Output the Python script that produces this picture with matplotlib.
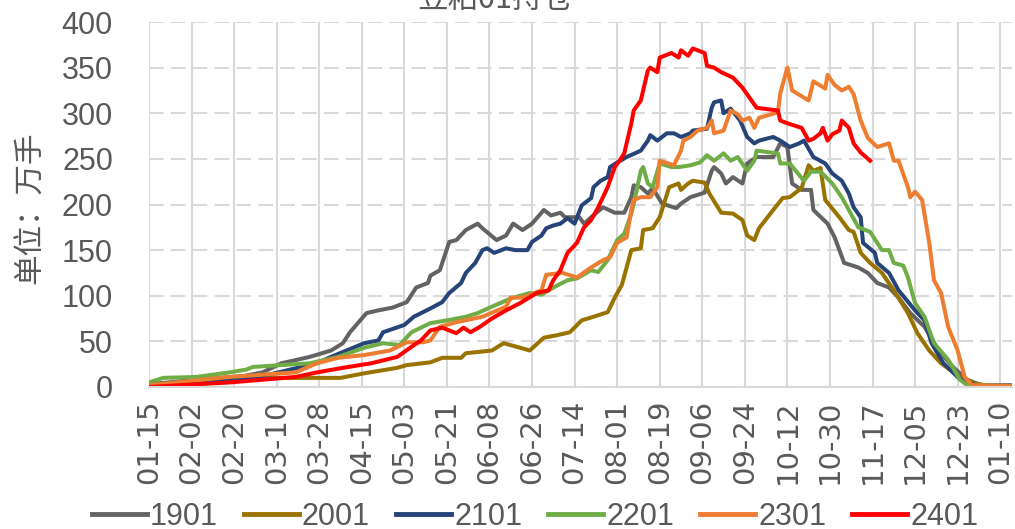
import numpy as np
import matplotlib
matplotlib.use("Agg")
import matplotlib.pyplot as plt

# days counted from 01-15
tick_days = np.arange(0, 361, 18)
tick_labels = ["01-15", "02-02", "02-20", "03-10", "03-28", "04-15", "05-03",
               "05-21", "06-08", "06-26", "07-14", "08-01", "08-19", "09-06",
               "09-24", "10-12", "10-30", "11-17", "12-05", "12-23", "01-10"]

d1901 = [0, 20, 40, 48, 56, 68, 77, 82, 85, 92, 97, 103, 109, 113, 118, 119, 123, 127, 130, 134,
         139, 141, 147, 151, 154, 158, 162, 167, 170, 174, 176, 182, 184, 187, 192, 197, 201, 204,
         205, 208, 211, 213, 217, 223, 225, 229, 235, 238, 239, 242, 244, 247, 251, 253, 257, 264,
         267, 270, 272, 276, 280, 281, 287, 290, 294, 300, 304, 308, 313, 317, 322, 328, 334, 340,
         346, 352, 365]
v1901 = [3, 8, 12, 16, 26, 33, 40, 48, 60, 81, 84, 87, 93, 109, 114, 122, 128, 159, 161, 172,
         179, 174, 161, 166, 179, 172, 179, 194, 188, 191, 186, 186, 179, 186, 197, 191, 191, 208,
         221, 219, 212, 218, 201, 196, 201, 208, 213, 237, 241, 234, 223, 230, 223, 245, 252, 252,
         267, 263, 223, 216, 216, 194, 179, 164, 136, 131, 125, 114, 109, 98, 81, 66, 40, 22,
         8, 2, 2]

d2001 = [0, 30, 48, 81, 91, 105, 109, 119, 124, 132, 134, 145, 150, 157, 161, 167, 173, 178, 183,
         188, 194, 197, 200, 204, 208, 209, 213, 216, 220, 224, 225, 228, 230, 235, 237, 242, 247,
         251, 253, 256, 258, 264, 268, 271, 276, 279, 281, 284, 286, 292, 296, 298, 301, 305, 310,
         315, 321, 325, 330, 335, 343, 349, 356, 365]
v2001 = [2, 6, 10, 10, 15, 21, 24, 27, 32, 32, 37, 40, 48, 43, 40, 54, 57, 60, 73,
         77, 82, 98, 112, 150, 152, 172, 174, 186, 219, 223, 216, 223, 226, 224, 212, 191, 190,
         183, 166, 161, 174, 194, 207, 208, 218, 243, 237, 240, 205, 186, 172, 170, 147, 136, 125,
         106, 81, 59, 40, 26, 11, 4, 1, 1]

d2101 = [0, 20, 45, 71, 77, 91, 97, 99, 108, 112, 119, 124, 127, 132, 134, 138, 141, 143, 146,
         151, 155, 160, 162, 166, 168, 171, 174, 177, 180, 183, 187, 188, 191, 194, 195, 198, 202,
         208, 211, 212, 215, 219, 222, 225, 229, 230, 236, 238, 239, 242, 243, 246, 250, 253, 256,
         258, 264, 267, 271, 275, 277, 281, 286, 289, 293, 296, 298, 301, 302, 307, 308, 313, 317,
         324, 328, 331, 336, 342, 346, 352, 365]
v2101 = [2, 5, 10, 26, 33, 48, 51, 60, 68, 77, 86, 93, 103, 114, 125, 136, 150, 152, 147,
         152, 150, 150, 159, 166, 174, 177, 179, 185, 179, 199, 207, 219, 226, 230, 241, 246, 252,
         259, 270, 276, 270, 278, 278, 274, 278, 281, 283, 306, 312, 314, 300, 305, 292, 274, 267,
         270, 274, 270, 263, 267, 270, 252, 245, 234, 226, 212, 197, 186, 158, 147, 136, 125, 106,
         84, 73, 48, 26, 11, 4, 1, 1]

d2201 = [0, 6, 20, 34, 41, 44, 56, 68, 80, 91, 99, 106, 111, 119, 126, 134, 139, 145, 153, 161,
         166, 171, 177, 181, 187, 190, 194, 198, 201, 204, 206, 208, 209, 211, 213, 216, 221, 224,
         229, 233, 236, 239, 243, 246, 249, 253, 256, 257, 263, 266, 267, 271, 277, 280, 284, 289,
         293, 296, 300, 305, 310, 313, 315, 319, 321, 324, 328, 332, 338, 343, 346, 365]
v2201 = [5, 10, 11, 16, 19, 22, 24, 26, 33, 43, 48, 46, 60, 70, 73, 77, 81, 88, 97, 103,
         101, 109, 117, 119, 128, 126, 139, 161, 168, 190, 212, 237, 241, 223, 219, 245, 241, 241,
         243, 246, 254, 248, 256, 248, 252, 237, 248, 259, 257, 256, 245, 245, 226, 236, 236, 223,
         208, 194, 175, 170, 150, 150, 136, 133, 120, 92, 77, 48, 30, 8, 2, 1]

d2301 = [0, 34, 62, 71, 80, 91, 102, 109, 116, 119, 123, 130, 141, 151, 153, 158, 166, 168, 175,
         181, 187, 192, 195, 198, 202, 204, 205, 208, 212, 215, 216, 222, 225, 226, 229, 232, 236,
         238, 239, 243, 246, 249, 251, 254, 256, 258, 266, 267, 270, 272, 279, 281, 286, 287, 290,
         293, 296, 298, 301, 304, 308, 313, 315, 317, 321, 322, 324, 327, 330, 332, 335, 338, 342,
         345, 348, 365]
v2301 = [2, 11, 16, 26, 32, 35, 40, 49, 49, 51, 66, 71, 77, 88, 98, 98, 106, 123, 125,
         120, 131, 139, 142, 158, 164, 194, 205, 208, 208, 219, 248, 243, 259, 270, 274, 281, 284,
         292, 278, 281, 303, 299, 292, 295, 284, 295, 301, 322, 350, 325, 314, 335, 327, 342, 331,
         325, 329, 321, 292, 273, 263, 267, 248, 248, 219, 208, 214, 205, 158, 117, 103, 66, 40,
         11, 2, 1]

d2401 = [0, 34, 62, 71, 82, 94, 105, 111, 115, 119, 124, 130, 133, 136, 140, 145, 151, 157, 164,
         169, 171, 174, 177, 181, 184, 187, 190, 194, 197, 199, 201, 204, 205, 208, 209, 211, 212,
         215, 216, 221, 224, 225, 228, 230, 235, 236, 239, 242, 247, 251, 254, 257, 266, 267, 270,
         276, 279, 281, 284, 285, 287, 289, 292, 293, 296, 298, 301, 305]
v2401 = [0, 5, 11, 16, 21, 26, 33, 44, 51, 62, 65, 59, 65, 60, 66, 75, 84, 92, 103,
         106, 117, 128, 147, 158, 175, 183, 197, 219, 241, 248, 256, 289, 303, 314, 325, 347, 350,
         345, 361, 366, 361, 369, 363, 371, 366, 352, 350, 345, 339, 328, 317, 306, 303, 292, 289,
         284, 270, 272, 278, 284, 270, 277, 281, 292, 284, 267, 257, 248]

series = [("1901", d1901, v1901, "#636363"),
          ("2001", d2001, v2001, "#997300"),
          ("2101", d2101, v2101, "#264478"),
          ("2201", d2201, v2201, "#70AD47"),
          ("2301", d2301, v2301, "#ED7D31"),
          ("2401", d2401, v2401, "#FF0000")]

txt = "#595959"
grid = "#D9D9D9"

fig = plt.figure(figsize=(10.15, 5.29), dpi=100)
ax = fig.add_axes([149 / 1015, 1 - 387 / 529, (1012 - 149) / 1015, 365 / 529])

for name, d, v, c in series:
    ax.plot(d, v, color=c, lw=2.9, label=name, solid_joinstyle="round")

ax.set_xlim(0, 365)
ax.set_ylim(0, 400)
ax.set_xticks(tick_days)
ax.set_xticklabels(tick_labels, rotation=90, fontsize=21, color=txt,
                   family="DejaVu Sans")
ax.set_yticks(np.arange(0, 401, 50))
ax.set_yticklabels([str(t) for t in range(0, 401, 50)], fontsize=22, color=txt,
                   family="Liberation Sans")
ax.tick_params(axis="x", length=0, pad=9)
ax.tick_params(axis="y", length=0, pad=26)

for d in tick_days:
    ax.axvline(d, color=grid, lw=1.5, zorder=0)
for y in range(50, 401, 50):
    ax.axhline(y, color=grid, lw=1.5, dashes=(7, 3.5), zorder=0)

for s in ["top", "right", "left"]:
    ax.spines[s].set_visible(False)
ax.spines["bottom"].set_color(grid)
ax.spines["bottom"].set_linewidth(1.5)

fig.text(31 / 1015, 1 - 208 / 529, "单位：万手", rotation=90, ha="center", va="center",
         fontsize=22, color=txt, family=["Noto Sans CJK SC", "DejaVu Sans"])
fig.text(0.488, 1 - 8 / 529, "豆粕01持仓", ha="center", va="baseline",
         fontsize=22, color=txt, family=["Noto Sans CJK SC", "DejaVu Sans"])

leg = fig.legend(loc="center", bbox_to_anchor=(535 / 1015, 1 - 517 / 529), ncol=6,
                 frameon=False, handlelength=1.8, handletextpad=0.1, columnspacing=0.85,
                 prop={"family": "Liberation Sans", "size": 22})
for t in leg.get_texts():
    t.set_color(txt)
for h in leg.legend_handles:
    h.set_linewidth(3.5)

fig.savefig("out.png", dpi=100)
